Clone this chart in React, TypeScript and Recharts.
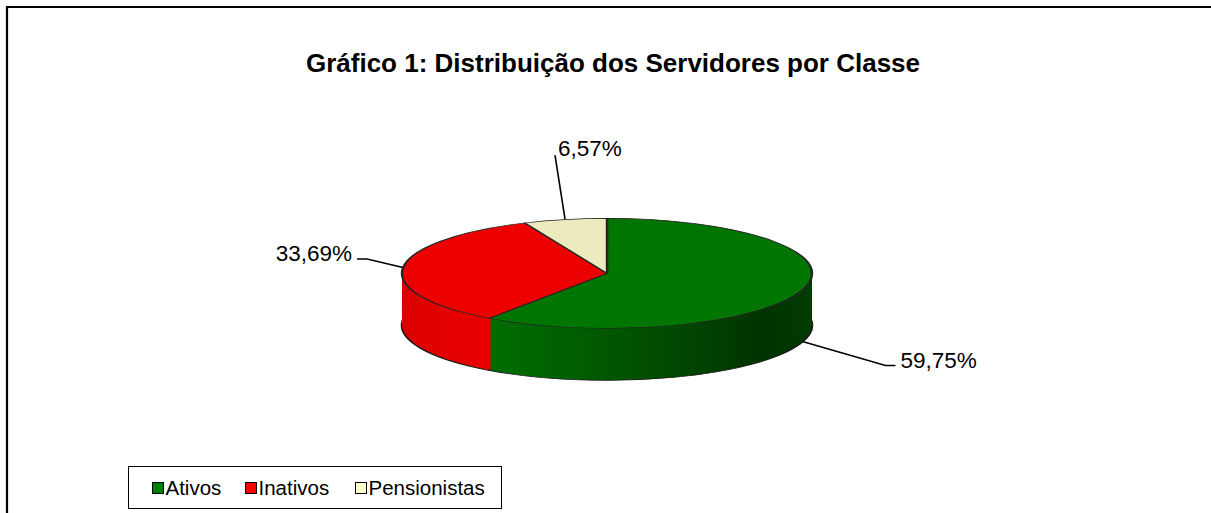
import React from "react";
import { PieChart, Pie, Cell, Legend } from "recharts";

const categories = ["Ativos", "Inativos", "Pensionistas"];
const shares = [59.75, 33.69, 6.57];
const topColors = ["#007600", "#ec0000", "#ecebbe"];
const legendColors = ["#008000", "#ff0000", "#ffffcc"];
const wallFills = ["url(#wallGreen)", "url(#wallRed)", "url(#wallCream)"];

const data = categories.map((name, i) => ({ name, value: shares[i] }));

// ellipse geometry (screen px)
const CX = 607;
const CY = 273;
const R = 205;
const K = 55 / 205; // vertical squash
const DEPTH = 52;
const LAYERS = 52;

// squashed chart coords
const CY_U = 210;
const DEPTH_U = DEPTH / K;
const H_U = Math.ceil(CY_U + DEPTH_U + R + 10);
const TOP = CY - K * CY_U;

const FONT = '"Liberation Sans", Arial, sans-serif';

const labelLayout = [
  { elbow: [83, 24], end: [93, 24], text: [98, 26], anchor: "start" },
  { elbow: [-36, -8.5], end: [-46, -8.5], text: [-51, -6.5], anchor: "end" },
  { elbow: [-10, -64], end: [-10, -64], text: [-7, -63], anchor: "start" },
];

// legend item widths (swatch to next swatch)
const legendItemWidths = [93, 110, 140];

const RAD = Math.PI / 180;

function renderLabel(props: any) {
  const { cx, cy, midAngle, outerRadius, index, value } = props;
  const s = Math.sin(-midAngle * RAD);
  const c = Math.cos(-midAngle * RAD);
  const ax = cx + outerRadius * c;
  let ay = cy + outerRadius * K * s;
  if (s > 0) ay += DEPTH;
  const l = labelLayout[index];
  const pts = [
    [ax, ay],
    [ax + l.elbow[0], ay + l.elbow[1]],
    [ax + l.end[0], ay + l.end[1]],
  ];
  const txt = Number(value).toFixed(2).replace(".", ",") + "%";
  return (
    <g key={`lbl-${index}`}>
      <polyline
        points={pts.map((p) => p.join(",")).join(" ")}
        fill="none"
        stroke="#000"
        strokeWidth={1.6}
      />
      <text
        x={ax + l.text[0]}
        y={ay + l.text[1]}
        textAnchor={l.anchor as any}
        fontFamily={FONT}
        fontSize={22.5}
        fill="#000"
      >
        {txt}
      </text>
    </g>
  );
}

function LegendBox(props: any) {
  const payload = props.payload || [];
  return (
    <div
      style={{
        boxSizing: "border-box",
        width: 374,
        height: 43,
        border: "1.5px solid #000",
        display: "flex",
        alignItems: "center",
        paddingLeft: 22.5,
        fontFamily: FONT,
        fontSize: 20.5,
        background: "#fff",
      }}
    >
      {payload.map((p: any, i: number) => {
        const idx = categories.indexOf(p.value);
        return (
          <div
            key={i}
            style={{ display: "flex", alignItems: "center", width: legendItemWidths[idx], flex: "none" }}
          >
            <span
              style={{
                display: "inline-block",
                boxSizing: "border-box",
                width: 12,
                height: 12,
                border: "1px solid #000",
                background: legendColors[idx],
                marginRight: 2,
              }}
            />
            <span style={{ lineHeight: "20px" }}>{p.value}</span>
          </div>
        );
      })}
    </div>
  );
}

export default function App() {
  const layers = [];
  for (let i = LAYERS; i >= 1; i--) {
    layers.push(
      <Pie
        key={`wall-${i}`}
        data={data}
        dataKey="value"
        nameKey="name"
        cx={CX}
        cy={CY_U + (i * DEPTH_U) / LAYERS}
        outerRadius={R}
        startAngle={90}
        endAngle={-270}
        stroke={i === LAYERS ? "#1a1a1a" : "none"}
        strokeWidth={i === LAYERS ? 2.5 : 0}
        legendType="none"
        isAnimationActive={false}
      >
        {data.map((d, j) => (
          <Cell key={d.name} fill={wallFills[j]} />
        ))}
      </Pie>
    );
  }

  return (
    <div
      style={{
        position: "absolute",
        left: 0,
        top: 0,
        width: 1211,
        height: 513,
        overflow: "hidden",
        background: "#fff",
      }}
    >
      <svg width={0} height={0} style={{ position: "absolute" }}>
        <defs>
          <linearGradient id="wallGreen" gradientUnits="userSpaceOnUse" x1={488} y1={0} x2={812} y2={0}>
            <stop offset="0" stopColor="#006e00" />
            <stop offset="0.45" stopColor="#005200" />
            <stop offset="0.85" stopColor="#003300" />
            <stop offset="1" stopColor="#003c00" />
          </linearGradient>
          <linearGradient id="wallRed" gradientUnits="userSpaceOnUse" x1={402} y1={0} x2={488} y2={0}>
            <stop offset="0" stopColor="#dc0000" />
            <stop offset="1" stopColor="#e80000" />
          </linearGradient>
          <linearGradient id="wallCream" gradientUnits="userSpaceOnUse" x1={402} y1={0} x2={812} y2={0}>
            <stop offset="0" stopColor="#d8d6a8" />
            <stop offset="1" stopColor="#c8c698" />
          </linearGradient>
        </defs>
      </svg>

      <svg width={1211} height={513} style={{ position: "absolute", left: 0, top: 0 }}>
        <path d="M7,513 L7,7 L1211,7" fill="none" stroke="#000" strokeWidth={2.2} />
        <text
          x={613}
          y={72}
          textAnchor="middle"
          fontFamily={FONT}
          fontWeight="bold"
          fontSize={26}
          fill="#000"
        >
          Gráfico 1: Distribuição dos Servidores por Classe
        </text>
      </svg>

      <div
        style={{
          position: "absolute",
          left: 0,
          top: TOP,
          width: 1211,
          height: H_U,
          transform: `scaleY(${K})`,
          transformOrigin: "0 0",
        }}
      >
        <PieChart width={1211} height={H_U} margin={{ top: 0, right: 0, bottom: 0, left: 0 }}>
          {layers}
          <Pie
            data={data}
            dataKey="value"
            nameKey="name"
            cx={CX}
            cy={CY_U}
            outerRadius={R}
            startAngle={90}
            endAngle={-270}
            stroke="#262626"
            strokeWidth={2.4}
            legendType="none"
            isAnimationActive={false}
          >
            {data.map((d, j) => (
              <Cell key={d.name} fill={topColors[j]} />
            ))}
          </Pie>
        </PieChart>
      </div>

      <div style={{ position: "absolute", left: 0, top: 0 }}>
        <PieChart width={1211} height={513} margin={{ top: 0, right: 0, bottom: 0, left: 0 }}>
          <Pie
            data={data}
            dataKey="value"
            nameKey="name"
            cx={CX}
            cy={CY}
            outerRadius={R}
            startAngle={90}
            endAngle={-270}
            stroke="none"
            fillOpacity={0}
            label={renderLabel}
            labelLine={false}
            legendType="square"
            isAnimationActive={false}
          >
            {data.map((d, j) => (
              <Cell key={d.name} fill={legendColors[j]} fillOpacity={0} />
            ))}
          </Pie>
          <Legend
            content={<LegendBox />}
            wrapperStyle={{ position: "absolute", left: 128, top: 466, width: 374, height: 43 }}
          />
        </PieChart>
      </div>
    </div>
  );
}
